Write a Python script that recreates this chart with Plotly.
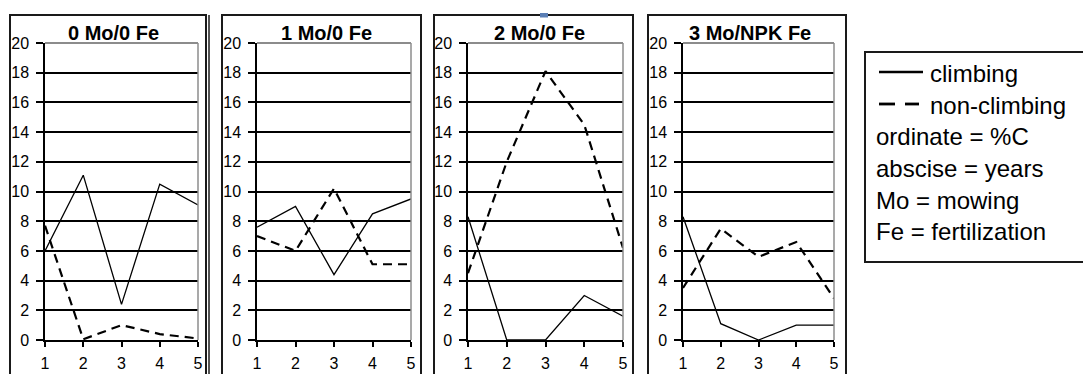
import plotly.graph_objects as go

W, H = 1083, 374

years = [1, 2, 3, 4, 5]
titles = ["0 Mo/0 Fe", "1 Mo/0 Fe", "2 Mo/0 Fe", "3 Mo/NPK Fe"]

climbing_0 = [6.0, 11.1, 2.4, 10.5, 9.1]
nonclimb_0 = [7.7, 0.05, 1.0, 0.4, 0.1]
climbing_1 = [7.6, 9.0, 4.4, 8.5, 9.5]
nonclimb_1 = [7.0, 6.0, 10.2, 5.1, 5.1]
climbing_2 = [8.3, 0.0, 0.0, 3.0, 1.6]
nonclimb_2 = [4.5, 12.0, 18.1, 14.5, 6.2]
climbing_3 = [8.3, 1.1, 0.0, 1.0, 1.0]
nonclimb_3 = [3.5, 7.5, 5.6, 6.6, 2.8]

climbing = [climbing_0, climbing_1, climbing_2, climbing_3]
nonclimbing = [nonclimb_0, nonclimb_1, nonclimb_2, nonclimb_3]

y_ticks = list(range(0, 21, 2))
legend_lines = ["climbing", "non-climbing"]
legend_notes = ["ordinate = %C", "abscise = years", "Mo = mowing", "Fe = fertilization"]


def px(x):
    return x / W


def py(y):
    return 1 - y / H


# layout geometry (pixels)
plot_x = [(45, 198), (257, 411), (468, 623), (683, 834)]
border_x = [(10, 206), (222, 421), (434, 633), (648, 846)]
title_cx = [113, 326, 539, 750]
plot_top, plot_bot = 43, 340

fig = go.Figure()
FONT = "Arial, Liberation Sans, sans-serif"

layout = dict(
    width=W, height=H, autosize=False,
    margin=dict(l=0, r=0, t=0, b=0, pad=0, autoexpand=False),
    paper_bgcolor="white", plot_bgcolor="white",
    showlegend=False,
    font=dict(family=FONT, color="black", size=16),
)

shapes = []
annotations = []

for i in range(4):
    sfx = "" if i == 0 else str(i + 1)
    xa, ya = "x" + sfx, "y" + sfx
    fig.add_trace(go.Scatter(
        x=years, y=nonclimbing[i], mode="lines", xaxis=xa, yaxis=ya,
        line=dict(color="black", width=2.2, dash="9px,6px"),
        name="non-climbing"))
    fig.add_trace(go.Scatter(
        x=years, y=climbing[i], mode="lines", xaxis=xa, yaxis=ya,
        line=dict(color="black", width=1.3),
        name="climbing"))
    layout["xaxis" + sfx] = dict(
        domain=[px(plot_x[i][0]), px(plot_x[i][1])], anchor=ya,
        range=[1, 5], tickvals=years, ticks="outside", ticklen=5,
        tickwidth=1.5, tickcolor="black", showline=True, linecolor="black",
        linewidth=1.5, showgrid=False, zeroline=False, automargin=False,
        tickfont=dict(size=16, family=FONT, color="black"),
        ticklabelstandoff=3, fixedrange=True)
    layout["yaxis" + sfx] = dict(
        domain=[py(plot_bot), py(plot_top)], anchor=xa,
        range=[0, 20], tickvals=y_ticks, ticks="outside", ticklen=7,
        tickwidth=1.5, tickcolor="black", showline=True, linecolor="black",
        linewidth=1.5, showgrid=True, gridcolor="black", gridwidth=1.5,
        zeroline=False, automargin=False,
        tickfont=dict(size=16, family=FONT, color="black"),
        ticklabelstandoff=4, fixedrange=True)
    # gray plot-area frame (top and right)
    shapes.append(dict(type="line", xref=xa + " domain", yref=ya + " domain",
                       x0=0, x1=1, y0=1, y1=1, layer="above",
                       line=dict(color="#8c8c8c", width=2)))
    shapes.append(dict(type="line", xref=xa + " domain", yref=ya + " domain",
                       x0=1, x1=1, y0=0, y1=1, layer="above",
                       line=dict(color="#8c8c8c", width=1.5)))
    # panel border
    bx0, bx1 = border_x[i]
    shapes.append(dict(type="rect", xref="paper", yref="paper",
                       x0=px(bx0), x1=px(bx1), y0=py(15), y1=py(390),
                       line=dict(color="#1a1a1a", width=2), layer="above"))
    annotations.append(dict(
        x=px(title_cx[i]), y=py(32.5), xref="paper", yref="paper",
        text="<b>" + titles[i] + "</b>", showarrow=False,
        xanchor="center", yanchor="middle",
        font=dict(size=20, family=FONT, color="black")))

# extra frame line next to first panel
shapes.append(dict(type="line", xref="paper", yref="paper",
                   x0=px(209), x1=px(209), y0=py(15), y1=py(390),
                   line=dict(color="#1a1a1a", width=1.5)))
# small selection handle on top
shapes.append(dict(type="rect", xref="paper", yref="paper",
                   x0=px(540), x1=px(548), y0=py(17.5), y1=py(13),
                   fillcolor="#5b7fb5", line=dict(width=0)))

# legend box
shapes.append(dict(type="rect", xref="paper", yref="paper",
                   x0=px(865), x1=px(1095), y0=py(52), y1=py(262),
                   line=dict(color="#1a1a1a", width=2)))
# legend samples
shapes.append(dict(type="line", xref="paper", yref="paper",
                   x0=px(879), x1=px(923), y0=py(72), y1=py(72),
                   line=dict(color="black", width=2.6)))
shapes.append(dict(type="line", xref="paper", yref="paper",
                   x0=px(879), x1=px(895), y0=py(104), y1=py(104),
                   line=dict(color="black", width=2.8)))
shapes.append(dict(type="line", xref="paper", yref="paper",
                   x0=px(905), x1=px(919), y0=py(104), y1=py(104),
                   line=dict(color="black", width=2.8)))

legend_y = [73, 105]
for t, yy in zip(legend_lines, legend_y):
    annotations.append(dict(x=px(928), y=py(yy), xref="paper", yref="paper",
                            text=t, showarrow=False, xanchor="left",
                            yanchor="middle",
                            font=dict(size=24, family=FONT, color="black")))
note_y = [136, 168, 200, 231]
for t, yy in zip(legend_notes, note_y):
    annotations.append(dict(x=px(874), y=py(yy), xref="paper", yref="paper",
                            text=t, showarrow=False, xanchor="left",
                            yanchor="middle",
                            font=dict(size=24, family=FONT, color="black")))

layout["shapes"] = shapes
layout["annotations"] = annotations
fig.update_layout(**layout)

fig.write_html("out.html")
